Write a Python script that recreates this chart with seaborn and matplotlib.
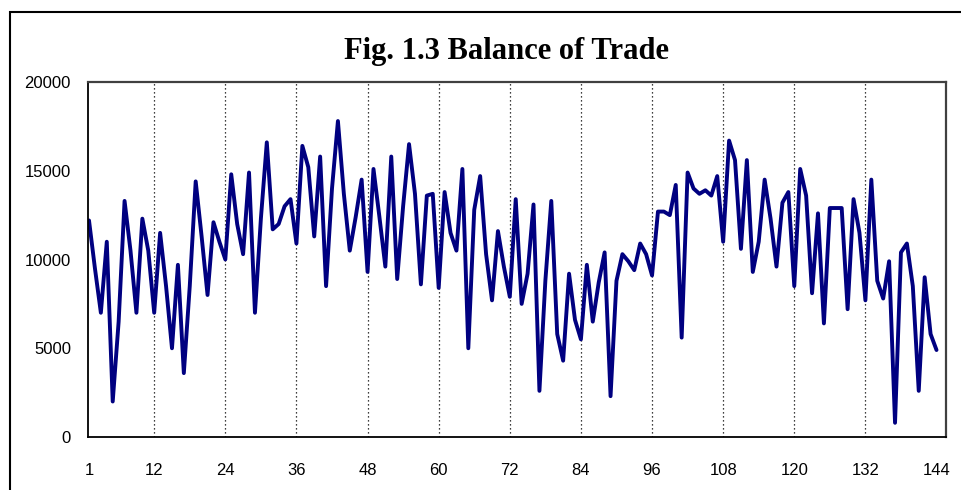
import pandas as pd
import seaborn as sns
import matplotlib.pyplot as plt
from matplotlib.patches import Rectangle


# ==============================
# Data
# ==============================
months = list(range(1, 145))

balance = [
    12200, 9500, 7000, 11000, 2000, 6500, 13300, 10500, 7000, 12300,
    10500, 7000, 11500, 8500, 5000, 9700, 3600, 8500, 14400, 11300,
    8000, 12100, 11000, 10000, 14800, 12000, 10300, 14900, 7000, 12300,
    16600, 11700, 12000, 13000, 13400, 10900, 16400, 15200, 11300, 15800,
    8500, 14000, 17800, 13700, 10500, 12400, 14500, 9300, 15100, 12400,
    9600, 15800, 8900, 13000, 16500, 13700, 8600, 13600, 13700, 8400,
    13800, 11500, 10500, 15100, 5000, 12800, 14700, 10300, 7700, 11600,
    9600, 7900, 13400, 7500, 9200, 13100, 2600, 8800, 13300, 5800,
    4300, 9200, 6600, 5500, 9700, 6500, 8700, 10400, 2300, 8800,
    10300, 9900, 9400, 10900, 10300, 9100, 12700, 12700, 12500, 14200,
    5600, 14900, 14000, 13700, 13900, 13600, 14700, 11000, 16700, 15600,
    10600, 15600, 9300, 11000, 14500, 12300, 9600, 13200, 13800, 8500,
    15100, 13600, 8100, 12600, 6400, 12900, 12900, 12900, 7200, 13400,
    11500, 7700, 14500, 8800, 7800, 9900, 800, 10400, 10900, 8500,
    2600, 9000, 5800, 4900,
]

x_ticks = [1, 12, 24, 36, 48, 60, 72, 84, 96, 108, 120, 132, 144]
y_ticks = [0, 5000, 10000, 15000, 20000]

df = pd.DataFrame({"Month": months, "Balance": balance})


# ==============================
# Visualization Settings
# ==============================
sns.set_style("white")
plt.rcParams["font.family"] = ["Liberation Sans", "DejaVu Sans"]

W, H = 962, 490
fig = plt.figure(figsize=(W / 100, H / 100), dpi=100)
ax = fig.add_axes([88 / W, 1 - 437 / H, (946 - 88) / W, (437 - 82) / H])

# outer chart frame (runs off the right and bottom edges)
fig.patches.append(Rectangle((10 / W, -0.1), 2, 1 - 12 / H + 0.1,
                             transform=fig.transFigure, fill=False,
                             edgecolor="black", linewidth=1.5))

# vertical dotted gridlines
for gx in x_ticks[1:-1]:
    ax.axvline(gx, color="black", linestyle=(0, (1, 2.2)), linewidth=0.9, zorder=0)

sns.lineplot(data=df, x="Month", y="Balance", color="#000080",
             linewidth=2.8, ax=ax)

ax.set_xlim(0.83, 145.6)
ax.set_ylim(0, 20000)
ax.set_xticks(x_ticks)
ax.set_yticks(y_ticks)
ax.set_xlabel("")
ax.set_ylabel("")
ax.tick_params(axis="y", direction="out", length=4.3, width=1,
               labelsize=12, colors="black", pad=8)
ax.tick_params(axis="x", length=0, labelsize=12, colors="black", pad=19)

for side in ["left", "bottom"]:
    ax.spines[side].set_color("black")
    ax.spines[side].set_linewidth(1.3)
for side in ["top", "right"]:
    ax.spines[side].set_color("#404040")
    ax.spines[side].set_linewidth(1.6)

fig.text(507 / W, 1 - 51 / H, "Fig. 1.3 Balance of Trade",
         ha="center", va="center", fontsize=22, fontweight="bold",
         color="black", family=["Liberation Serif", "DejaVu Serif"])

plt.savefig("out.png", dpi=100)
